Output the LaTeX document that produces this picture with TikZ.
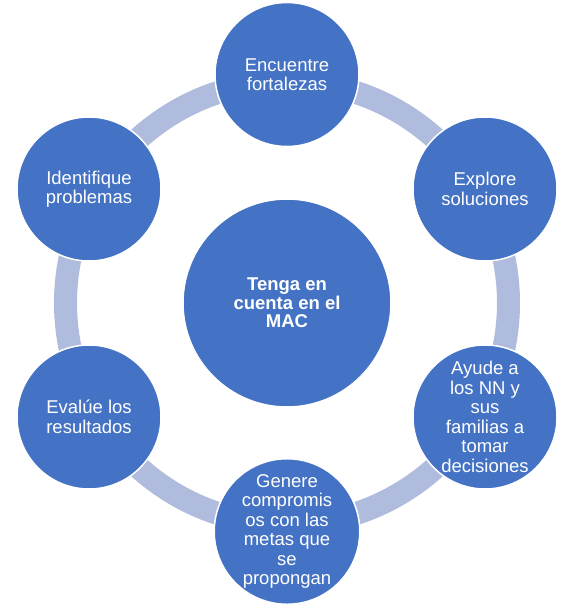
\documentclass[tikz,border=0pt]{standalone}
\usepackage{fontspec}
\setmainfont{Liberation Sans}
\definecolor{cblue}{HTML}{4472C4}
\definecolor{cring}{HTML}{B0BCDD}
\begin{document}
\begin{tikzpicture}[x=1pt,y=-1pt,
  bub/.style={circle,fill=cblue,draw=white,line width=1.5pt,inner sep=0pt,
    minimum size=144pt,text=white,align=center,
    font=\fontsize{18.5}{19.5}\selectfont},
  hub/.style={bub,minimum size=208pt,font=\fontsize{18.5}{18.5}\selectfont\bfseries},
  ring/.style={draw=cring,line width=23pt}]
\useasboundingbox (0,0) rectangle (567,613);
\coordinate (o) at (287,303);
\draw[ring] (o) circle (221.5);
\node[hub] (c) at (o) {Tenga en\\cuenta en el\\MAC};
\node[bub] (n1) at (287,74.5) {Encuentre\\fortalezas};
\node[bub] (n2) at (485,189) {Explore\\soluciones};
\node[bub] (n3) at (485,417) {Ayude a\\los NN y\\sus\\familias a\\tomar\\decisiones};
\node[bub] (n4) at (287,531.5) {Genere\\compromis\\os con las\\metas que\\se\\propongan};
\node[bub] (n5) at (89,417) {Evalúe los\\resultados};
\node[bub] (n6) at (89,189) {Identifique\\problemas};
\end{tikzpicture}
\end{document}
